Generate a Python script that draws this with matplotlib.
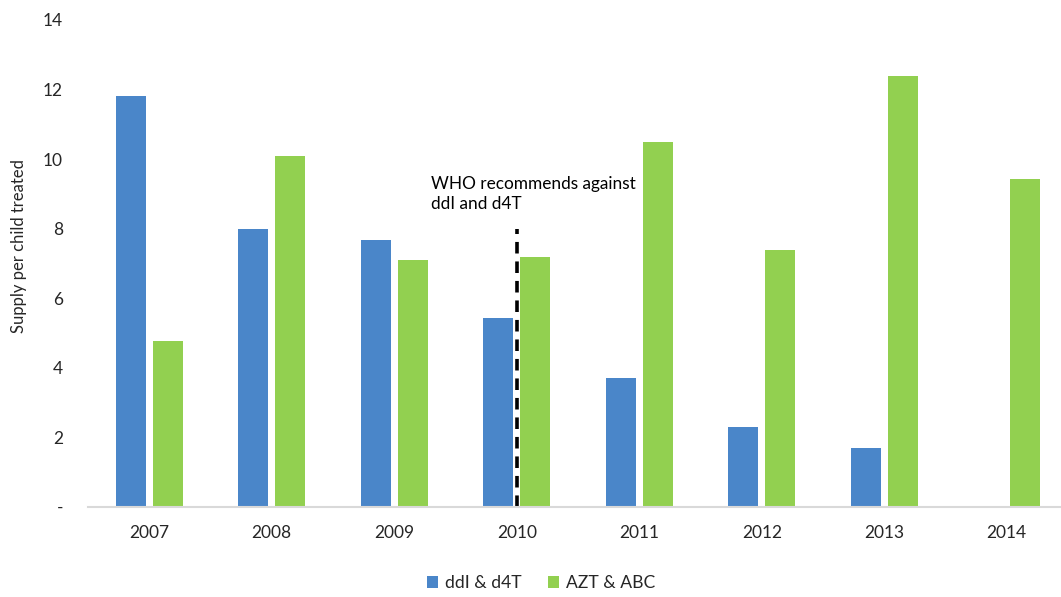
import numpy as np
import matplotlib.pyplot as plt

plt.rcParams['font.family'] = ['Lato', 'DejaVu Sans']

years = ['2007', '2008', '2009', '2010', '2011', '2012', '2013', '2014']
ddi_d4t = [11.82, 7.99, 7.67, 5.42, 3.70, 2.29, 1.70, 0.0]
azt_abc = [4.77, 10.09, 7.10, 7.18, 10.48, 7.39, 12.39, 9.42]
who_year_idx = 3     # 2010
who_line_top = 8.0
yticks = [0, 2, 4, 6, 8, 10, 12, 14]
ytick_labels = ['-', '2', '4', '6', '8', '10', '12', '14']

blue = '#4A86C9'
green = '#92D050'
txt = '#262626'

fig = plt.figure(figsize=(10.61, 5.97), dpi=100)
# axes runs slightly past the right edge, like the reference
ax = fig.add_axes([88/1061, 90.3/597, 980/1061, 486.7/597])

x = np.arange(len(years))
w = 0.245
off = 0.151
ax.bar(x - off, ddi_d4t, width=w, color=blue, label='ddI & d4T')
ax.bar(x + off, azt_abc, width=w, color=green, label='AZT & ABC')

# WHO recommendation marker
ax.plot([who_year_idx, who_year_idx], [0, who_line_top], color='black',
        linestyle=(0, (3.2, 2.2)), linewidth=2.6)
ax.text(who_year_idx - 0.7, 9.5, 'WHO recommends against\nddI and d4T',
        fontsize=12.4, color='black', ha='left', va='top', linespacing=1.25)

ax.set_xlim(-0.5, 7.5)
ax.set_ylim(0, 14)
ax.set_xticks(x)
ax.set_xticklabels(years)
ax.set_yticks(yticks)
ax.set_yticklabels(ytick_labels)
ax.tick_params(axis='both', length=0, labelsize=12.5, colors=txt)
ax.tick_params(axis='x', pad=13)
ax.tick_params(axis='y', pad=18)
for s in ['top', 'right', 'left']:
    ax.spines[s].set_visible(False)
ax.spines['bottom'].set_color('#D9D9D9')
ax.spines['bottom'].set_linewidth(1.5)

fig.text(19/1061, 1 - 246/597, 'Supply per child treated', rotation=90,
         ha='center', va='center', fontsize=12, color=txt)

fig.legend(loc='center', bbox_to_anchor=(541/1061, 1 - 583/597), ncol=2,
           frameon=False, fontsize=12.6, handlelength=0.65, handleheight=0.65,
           handletextpad=0.4, columnspacing=1.5, labelcolor=txt)

fig.savefig('out.png', dpi=100)
